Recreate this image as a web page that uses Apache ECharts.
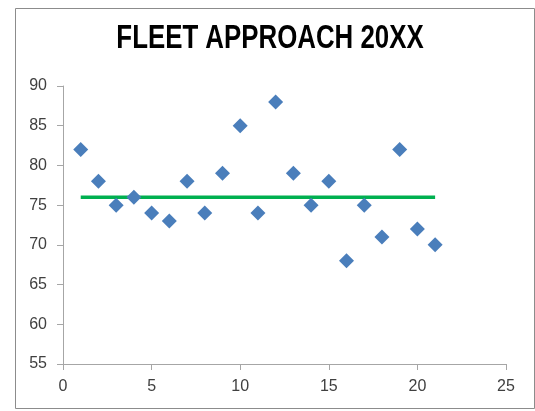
<!DOCTYPE html>
<html><head><meta charset="utf-8">
<script src="https://cdn.jsdelivr.net/npm/echarts@6/dist/echarts.min.js"></script>
<style>html,body{margin:0;padding:0;background:#fff}#c{width:535px;height:411px}</style>
</head><body><div id="c"></div>
<script>
const titleText = 'FLEET APPROACH 20XX';
const xValues = [1,2,3,4,5,6,7,8,9,10,11,12,13,14,15,16,17,18,19,20,21];
const yValues = [82,78,75,76,74,73,78,74,79,85,74,88,79,75,78,68,75,71,82,72,70];
const avgX = [1,21];
const avgY = [76,76];

const chart = echarts.init(document.getElementById('c'));
const labelFont = {color:'#404040', fontSize:16, fontFamily:'Liberation Sans'};
chart.setOption({
  animation:false,
  backgroundColor:'#fff',
  graphic:[
    {type:'rect', shape:{x:15.5,y:8.5,width:519,height:400},
      style:{fill:'none', stroke:'#8c8c8c', lineWidth:1}, silent:true},
    {type:'text', x:270, y:39, scaleX:0.76, scaleY:1,
      style:{text:titleText, fill:'#000', fontFamily:'Liberation Sans', fontWeight:'bold', fontSize:34,
        textAlign:'center', textVerticalAlign:'middle'}, silent:true}
  ],
  grid:{left:63, right:29, top:86, bottom:47},
  xAxis:{type:'value', min:0, max:25, interval:5,
    axisLine:{lineStyle:{color:'#a6a6a6'}},
    axisTick:{show:true, length:6, lineStyle:{color:'#a6a6a6'}},
    splitLine:{show:false},
    axisLabel:Object.assign({margin:15}, labelFont)},
  yAxis:{type:'value', min:55, max:90, interval:5,
    axisLine:{show:true, lineStyle:{color:'#a6a6a6'}},
    axisTick:{show:true, length:6, lineStyle:{color:'#a6a6a6'}},
    splitLine:{show:false},
    axisLabel:Object.assign({margin:16}, labelFont)},
  series:[
    {type:'line', data:avgX.map((x,i)=>[x,avgY[i]]), showSymbol:false, symbol:'none',
      lineStyle:{color:'#00b050', width:3.5}, z:1},
    {type:'scatter', data:xValues.map((x,i)=>[x,yValues[i]]), symbol:'diamond', symbolSize:15,
      itemStyle:{color:'#4a7ebb', opacity:1}, z:2}
  ]
});
</script></body></html>
